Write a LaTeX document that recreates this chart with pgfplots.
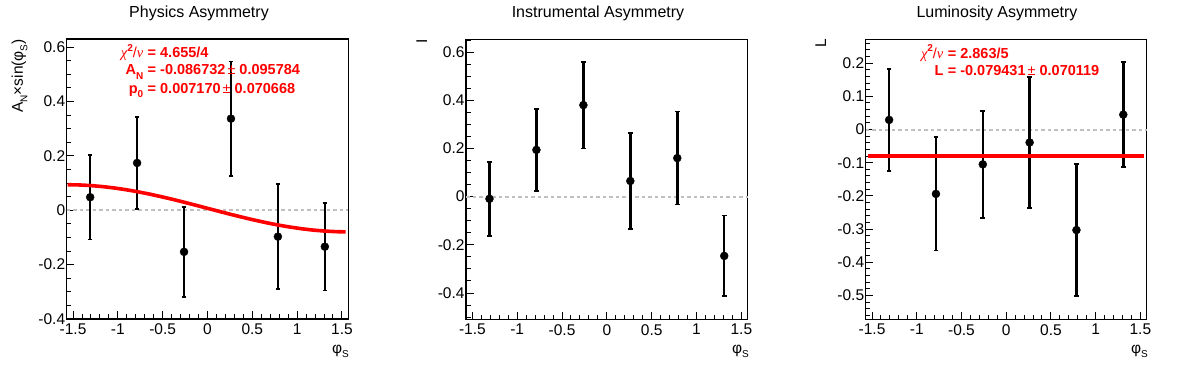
\documentclass[border=0pt]{standalone}
\usepackage{fontspec}
\setmainfont{Liberation Sans}
\newfontfamily\serifgr{Liberation Serif}
\usepackage{pgfplots}
\usepackage{pgfplotstable}
\pgfplotsset{compat=1.18}
\definecolor{rootred}{RGB}{255,0,0}
\definecolor{zerogray}{RGB}{192,192,192}

\pgfplotstableread{
x y e
-1.3090 0.048 0.155
-0.7854 0.174 0.170
-0.2618 -0.153 0.165
0.2618 0.337 0.210
0.7854 -0.097 0.193
1.3090 -0.134 0.161
}\phys
\pgfplotstableread{
x y e
-1.3090 -0.009 0.154
-0.7854 0.194 0.170
-0.2618 0.380 0.180
0.2618 0.065 0.199
0.7854 0.160 0.193
1.3090 -0.246 0.167
}\instr
\pgfplotstableread{
x y e
-1.3090 0.029 0.154
-0.7854 -0.194 0.171
-0.2618 -0.105 0.161
0.2618 -0.039 0.197
0.7854 -0.303 0.199
1.3090 0.045 0.158
}\lumi
\pgfplotstableread{
x y
-1.5600 0.0939
-1.4399 0.0932
-1.3090 0.0910
-1.1781 0.0873
-1.0472 0.0823
-0.9163 0.0760
-0.7854 0.0685
-0.6545 0.0600
-0.5236 0.0505
-0.3927 0.0404
-0.2618 0.0296
-0.1309 0.0185
0.0000 0.0072
0.1309 -0.0042
0.2618 -0.0153
0.3927 -0.0260
0.5236 -0.0362
0.6545 -0.0456
0.7854 -0.0542
0.9163 -0.0616
1.0472 -0.0679
1.1781 -0.0730
1.3090 -0.0766
1.4399 -0.0788
1.5400 -0.0795
}\fitcurve

\newcommand{\sub}[1]{\raisebox{-0.28em}{\fontsize{10}{10}\selectfont #1}}
\newcommand{\sups}[1]{\raisebox{0.45em}{\fontsize{10}{10}\selectfont #1}}
\newcommand{\pmthin}{\kern2pt{\mdseries ±}}

\pgfplotsset{rootax/.style={
  scale only axis, anchor=south west, height=280pt,
  xmin=-1.5708, xmax=1.5708,
  axis line style={line width=1.3pt},
  tick align=inside, xtick pos=bottom, ytick pos=left,
  xtick={-1.5,-1,-0.5,0,0.5,1,1.5},
  xticklabels={-1.5,-1,-0.5,0,0.5,1,1.5},
  minor xtick={-1.4,-1.3,-1.2,-1.1,-0.9,-0.8,-0.7,-0.6,-0.4,-0.3,-0.2,-0.1,0.1,0.2,0.3,0.4,0.6,0.7,0.8,0.9,1.1,1.2,1.3,1.4},
  major tick length=7.5pt, minor tick length=4.5pt,
  every tick/.style={black, line width=1pt},
  tick label style={font=\fontsize{15.5}{18}\selectfont},
  xticklabel style={yshift=-1.5pt},
  yticklabel style={xshift=2pt},
  clip=false,
}}
\pgfplotsset{zeroline/.style={draw=zerogray, line width=2pt, dash pattern=on 3.5pt off 3pt, forget plot}}
\pgfplotsset{datapts/.style={black, only marks, mark=*, mark size=4pt,
  error bars/.cd, y dir=both, y explicit, error mark=|,
  error bar style={line width=2.5pt, black},
  error mark options={black, line width=1.6pt, mark size=2.3pt}}}

\begin{document}
\begin{tikzpicture}[x=1pt,y=1pt]
\path[use as bounding box] (0pt,0pt) rectangle (1196pt,372pt);

% ---------- Panel 1 ----------
\begin{axis}[rootax, at={(66.7pt,53pt)}, width=281.6pt,
  ymin=-0.4, ymax=0.63,
  ytick={-0.4,-0.2,0,0.2,0.4,0.6},
  yticklabels={-0.4,-0.2,0,0.2,0.4,0.6},
  minor ytick={-0.35,-0.3,-0.25,-0.15,-0.1,-0.05,0.05,0.1,0.15,0.25,0.3,0.35,0.45,0.5,0.55}]
\addplot[zeroline] coordinates {(-1.5708,0) (1.5708,0)};
\addplot[datapts] table[x=x,y=y,y error=e] {\phys};
\addplot[rootred, line width=3.6pt, no marks] table[x=x,y=y] {\fitcurve};
\end{axis}

% ---------- Panel 2 ----------
\begin{axis}[rootax, at={(466pt,52.7pt)}, width=281.7pt,
  ymin=-0.509, ymax=0.653,
  ytick={-0.4,-0.2,0,0.2,0.4,0.6},
  yticklabels={-0.4,-0.2,0,0.2,0.4,0.6},
  minor ytick={-0.5,-0.45,-0.35,-0.3,-0.25,-0.15,-0.1,-0.05,0.05,0.1,0.15,0.25,0.3,0.35,0.45,0.5,0.55,0.65}]
\addplot[zeroline] coordinates {(-1.5708,0) (1.5708,0)};
\addplot[datapts] table[x=x,y=y,y error=e] {\instr};
\end{axis}

% ---------- Panel 3 ----------
\begin{axis}[rootax, at={(865.7pt,52.7pt)}, width=281pt,
  ymin=-0.572, ymax=0.272,
  ytick={-0.5,-0.4,-0.3,-0.2,-0.1,0,0.1,0.2},
  yticklabels={-0.5,-0.4,-0.3,-0.2,-0.1,0,0.1,0.2},
  minor ytick={-0.56,-0.54,-0.52,-0.48,-0.46,-0.44,-0.42,-0.38,-0.36,-0.34,-0.32,-0.28,-0.26,-0.24,-0.22,-0.18,-0.16,-0.14,-0.12,-0.08,-0.06,-0.04,-0.02,0.02,0.04,0.06,0.08,0.12,0.14,0.16,0.18,0.22,0.24,0.26}]
\addplot[zeroline] coordinates {(-1.5708,0) (1.5708,0)};
\addplot[datapts] table[x=x,y=y,y error=e] {\lumi};
\addplot[rootred, line width=3.6pt, no marks] coordinates {(-1.545,-0.079431) (1.54,-0.079431)};
\end{axis}

% ---------- Titles ----------
\begin{scope}[every node/.style={inner sep=0pt, font=\fontsize{16}{18}\selectfont}]
\node[anchor=base] at (199pt,354pt) {Physics Asymmetry};
\node[anchor=base] at (598pt,354pt) {Instrumental Asymmetry};
\node[anchor=base] at (997pt,354pt) {Luminosity Asymmetry};
\end{scope}

% ---------- Axis labels ----------
\begin{scope}[every node/.style={inner sep=0pt, font=\fontsize{15.5}{18}\selectfont}]
\node[anchor=base east] at (349pt,19pt) {φ\sub{S}};
\node[anchor=base east] at (749pt,19pt) {φ\sub{S}};
\node[anchor=base east] at (1148pt,19pt) {φ\sub{S}};
\node[anchor=base east, rotate=90] at (23pt,333pt) {A\sub{N}×sin(φ\sub{S})};
\node[anchor=base east, rotate=90] at (427pt,333pt) {I};
\node[anchor=base east, rotate=90] at (826pt,333pt) {L};
\end{scope}

% ---------- Fit statistics ----------
\begin{scope}[every node/.style={inner sep=0pt, text=rootred, font=\fontsize{14.5}{17}\selectfont\bfseries}]
\node[anchor=base east] at (143.5pt,314.3pt) {{\serifgr\mdseries\itshape χ}\sups{2}{\mdseries/}{\serifgr\mdseries\itshape ν}};
\node[anchor=base west] at (147.5pt,314.3pt) {= 4.655/4};
\node[anchor=base east] at (143.5pt,297pt) {A\sub{N}};
\node[anchor=base west] at (147.5pt,297pt) {= -0.086732\pmthin{} 0.095784};
\node[anchor=base east] at (143.5pt,278.7pt) {p\sub{0}};
\node[anchor=base west] at (147.5pt,278.7pt) {= 0.007170\pmthin{} 0.070668};

\node[anchor=base east] at (943.6pt,313.7pt) {{\serifgr\mdseries\itshape χ}\sups{2}{\mdseries/}{\serifgr\mdseries\itshape ν}};
\node[anchor=base west] at (947.6pt,313.7pt) {= 2.863/5};
\node[anchor=base east] at (943.6pt,296.3pt) {L};
\node[anchor=base west] at (947.6pt,296.3pt) {= -0.079431\pmthin{} 0.070119};
\end{scope}
\end{tikzpicture}
\end{document}
